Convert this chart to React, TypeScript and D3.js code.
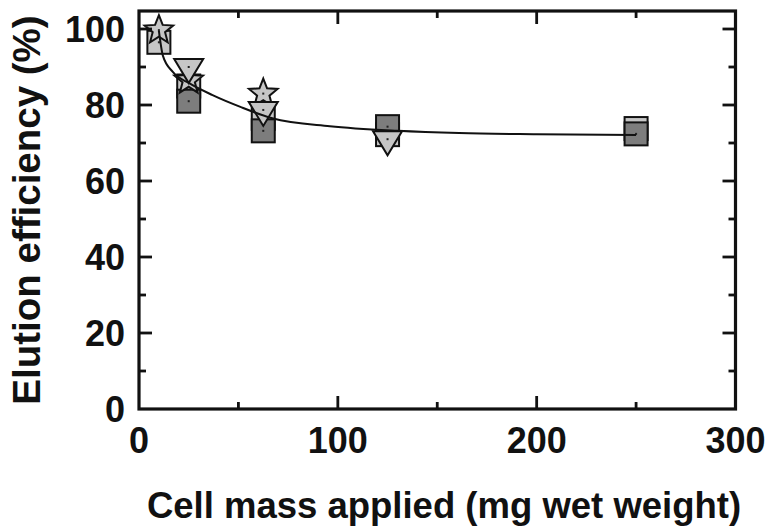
import React from "react";
import * as d3 from "d3";

// Cell mass applied (mg wet weight)
const massLevels = [10, 25, 62.5, 125, 250];

// Elution efficiency (%) per replicate series; null = no point
const lightSquares: (number | null)[] = [96.5, 85, 76.5, 72.2, 73.8];
const darkSquares: (number | null)[] = [null, 81, 73.2, 74.3, 72.4];
const stars: (number | null)[] = [99.7, 86.5, 83, null, null];
const triangles: (number | null)[] = [null, 90, 78.7, 71, null];

// Fitted decay curve, sampled along x
const fitX = [10, 12, 17, 25, 37, 51, 67, 96, 130, 161, 200, 250];
const fitY = [99.5, 93, 88.7, 85.8, 82.6, 79.5, 76.5, 74.4, 73.2, 72.6, 72.3, 72.1];

const xTicks = [0, 100, 200, 300];
const xMinor = [50, 150, 250];
const yTicks = [0, 20, 40, 60, 80, 100];
const yMinor = [10, 30, 50, 70, 90];

const W = 770;
const H = 531;
const left = 139;
const right = 735.5;
const top = 11;
const bottom = 409;

const x = d3.scaleLinear().domain([0, 300]).range([left, right]);
const y = d3.scaleLinear().domain([0, 100]).range([bottom, bottom - 380]);

const FONT = "'Liberation Sans', Arial, sans-serif";
const DARK = "#7d7d7d";
const LIGHT = "#c6c6c6";
const INK = "#111";

function starPath(cx: number, cy: number, ro: number, ri: number) {
  const pts: [number, number][] = [];
  for (let i = 0; i < 10; i++) {
    const a = -Math.PI / 2 + (i * Math.PI) / 5;
    const r = i % 2 === 0 ? ro : ri;
    pts.push([cx + r * Math.cos(a), cy + r * Math.sin(a)]);
  }
  return "M" + pts.map((p) => p.join(",")).join("L") + "Z";
}

function triPath(cx: number, cy: number, w: number, h: number) {
  // downward triangle, centroid at (cx, cy)
  const yTop = cy - h / 3;
  const yTip = cy + (2 * h) / 3;
  return `M${cx - w / 2},${yTop}L${cx + w / 2},${yTop}L${cx},${yTip}Z`;
}

function pointsOf(vals: (number | null)[]) {
  return massLevels
    .map((m, i) => ({ m, v: vals[i] }))
    .filter((d) => d.v !== null) as { m: number; v: number }[];
}

const Dot = ({ cx, cy }: { cx: number; cy: number }) => (
  <rect x={cx - 1} y={cy - 1} width={2} height={2} fill="#222" />
);

export default function App() {
  const line = d3
    .line<number>()
    .x((d) => x(d))
    .y((_, i) => y(fitY[i]))
    .curve(d3.curveMonotoneX);

  const sq = 23;

  return (
    <svg
      width={W}
      height={H}
      style={{ position: "absolute", left: 0, top: 0, background: "#fff" }}
      fontFamily={FONT}
    >
      {/* markers */}
      {pointsOf(lightSquares).map((d, i) => (
        <g key={"l" + i}>
          <rect
            x={x(d.m) - sq / 2}
            y={y(d.v) - sq / 2}
            width={sq}
            height={sq}
            fill={LIGHT}
            stroke={INK}
            strokeWidth={2}
          />
          <Dot cx={x(d.m)} cy={y(d.v)} />
        </g>
      ))}
      {pointsOf(darkSquares).map((d, i) => (
        <g key={"d" + i}>
          <rect
            x={x(d.m) - sq / 2}
            y={y(d.v) - sq / 2}
            width={sq}
            height={sq}
            fill={DARK}
            stroke={INK}
            strokeWidth={2}
          />
          <Dot cx={x(d.m)} cy={y(d.v)} />
        </g>
      ))}
      {pointsOf(stars).map((d, i) => (
        <g key={"s" + i}>
          <path
            d={starPath(x(d.m), y(d.v), 15, 6.5)}
            fill={LIGHT}
            stroke={INK}
            strokeWidth={2}
          />
          <Dot cx={x(d.m)} cy={y(d.v)} />
        </g>
      ))}
      {pointsOf(triangles).map((d, i) => (
        <g key={"t" + i}>
          <path
            d={triPath(x(d.m), y(d.v), 29, 24)}
            fill={LIGHT}
            stroke={INK}
            strokeWidth={2}
          />
          <Dot cx={x(d.m)} cy={y(d.v)} />
        </g>
      ))}

      {/* fitted curve */}
      <path d={line(fitX) ?? ""} fill="none" stroke={INK} strokeWidth={2} />

      {/* frame */}
      <rect
        x={left}
        y={top}
        width={right - left}
        height={bottom - top}
        fill="none"
        stroke={INK}
        strokeWidth={3.2}
      />

      {/* x ticks, bottom and top */}
      {xTicks.slice(1, -1).map((t) => (
        <g key={"xt" + t}>
          <line x1={x(t)} x2={x(t)} y1={bottom} y2={bottom - 13} stroke={INK} strokeWidth={2.8} />
          <line x1={x(t)} x2={x(t)} y1={top} y2={top + 13} stroke={INK} strokeWidth={2.8} />
        </g>
      ))}
      {xMinor.map((t) => (
        <g key={"xm" + t}>
          <line x1={x(t)} x2={x(t)} y1={bottom} y2={bottom - 7} stroke={INK} strokeWidth={2.8} />
          <line x1={x(t)} x2={x(t)} y1={top} y2={top + 7} stroke={INK} strokeWidth={2.8} />
        </g>
      ))}
      {/* y ticks, left and right */}
      {yTicks.slice(1).map((t) => (
        <g key={"yt" + t}>
          <line x1={left} x2={left + 13} y1={y(t)} y2={y(t)} stroke={INK} strokeWidth={2.8} />
          <line x1={right} x2={right - 13} y1={y(t)} y2={y(t)} stroke={INK} strokeWidth={2.8} />
        </g>
      ))}
      {yMinor.map((t) => (
        <g key={"ym" + t}>
          <line x1={left} x2={left + 7} y1={y(t)} y2={y(t)} stroke={INK} strokeWidth={2.8} />
          <line x1={right} x2={right - 7} y1={y(t)} y2={y(t)} stroke={INK} strokeWidth={2.8} />
        </g>
      ))}

      {/* tick labels */}
      {xTicks.map((t) => (
        <text
          key={"xl" + t}
          x={x(t)}
          y={bottom + 44}
          textAnchor="middle"
          fontSize={36}
          fontWeight="bold"
          fill={INK}
        >
          {t}
        </text>
      ))}
      {yTicks.map((t) => (
        <text
          key={"yl" + t}
          x={left - 14}
          y={y(t) + 13}
          textAnchor="end"
          fontSize={36}
          fontWeight="bold"
          fill={INK}
        >
          {t}
        </text>
      ))}

      {/* axis titles */}
      <text
        x={444}
        y={518}
        textAnchor="middle"
        fontSize={36.5}
        fontWeight="bold"
        fill={INK}
      >
        Cell mass applied (mg wet weight)
      </text>
      <text
        transform={`translate(40, 210) rotate(-90)`}
        textAnchor="middle"
        fontSize={38.5}
        fontWeight="bold"
        fill={INK}
      >
        Elution efficiency (%)
      </text>
    </svg>
  );
}
